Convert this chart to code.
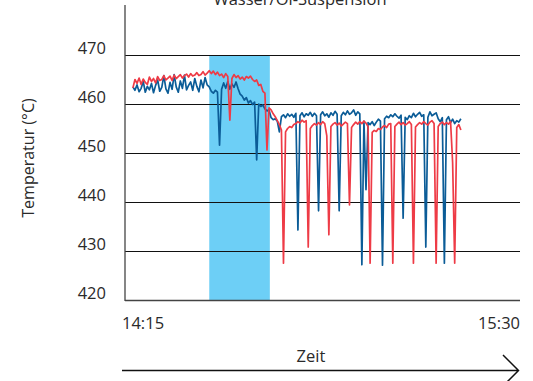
<!DOCTYPE html>
<html>
<head>
<meta charset="utf-8">
<script src="https://cdn.jsdelivr.net/npm/d3@7"></script>
<style>
  body { margin: 0; background: #fff; }
  text { font-family: 'Open Sans', 'Noto Sans', sans-serif; fill: #2a2a2a; }
</style>
</head>
<body>
<div class="chart"></div>
<script>
// Tick values and labels
const yTicks = [420, 430, 440, 450, 460, 470];
const xTickLabels = ['14:15', '15:30'];
const band = ['14:31:00', '14:42:30'];

// Sampling: first sample and interval in seconds
const sampleStart = '14:16:30';
const sampleSeconds = 23.5;

// Series 1 (blue)
const blueValues = [
  463.5, 462.8, 463.9, 462.5, 463.2, 464.6, 462.4, 463.6, 462.9, 464.2,
  462.3, 463.8, 464.9, 462.6, 463.4, 465.8, 463.1, 462.2, 464.4, 463.0,
  466.0, 463.5, 462.4, 464.7, 463.2, 465.9, 462.9, 463.8, 464.5, 462.8,
  465.2, 463.6, 462.5, 464.9, 463.3, 465.4, 463.9, 463.5, 462.6, 462.2,
  462.8, 462.4, 451.6, 463.0, 464.3, 463.2, 464.6, 463.0, 464.1, 463.4,
  464.5, 463.1, 462.0, 461.6, 460.8, 461.3, 460.2, 460.7, 459.9, 460.4,
  448.6, 460.0, 459.5, 459.8, 459.0, 458.6, 458.8, 457.2, 456.8, 457.0,
  456.5, 454.3, 457.4, 457.8, 457.2, 458.0, 457.5, 457.9, 457.3, 458.1,
  434.3, 457.6, 458.2, 457.4, 458.0, 457.7, 458.3, 457.5, 458.1, 457.6,
  438.2, 457.8, 458.4, 457.6, 458.0, 457.3, 458.2, 457.7, 458.5, 457.9,
  438.2, 457.6, 458.3, 457.8, 458.6, 457.9, 458.2, 458.8, 457.7, 458.4,
  458.0, 427.2, 456.5, 442.5, 456.2, 455.8, 456.4, 455.6, 456.3, 456.9,
  456.5, 427.1, 457.0, 457.5, 457.2, 457.8, 457.4, 458.0, 457.5, 457.1,
  457.7, 436.7, 457.3, 456.8, 457.6, 457.2, 458.1, 457.4, 457.9, 458.3,
  457.5, 457.8, 430.8, 457.3, 458.4, 457.6, 457.9, 458.2, 457.0, 456.4,
  457.2, 427.5, 456.8, 457.4, 456.2, 456.9, 456.0, 456.6, 456.3, 457.0
];

// Series 2 (red)
const redValues = [
  463.3, 465.0, 464.2, 465.3, 464.0, 465.1, 464.4, 464.0, 465.5, 464.6,
  465.2, 464.3, 465.6, 464.8, 465.0, 465.8, 464.9, 465.3, 465.7, 464.8,
  465.9, 465.2, 465.6, 466.0, 465.3, 465.8, 466.1, 465.5, 466.2, 465.7,
  465.9, 466.4, 465.8, 466.0, 466.6, 465.9, 466.3, 466.8, 466.2, 466.7,
  466.0, 466.5, 465.8, 466.1, 465.4, 466.2, 465.6, 456.7, 465.2, 466.0,
  465.4, 465.8, 465.1, 465.5, 464.9, 465.6, 465.3, 465.7, 465.0, 464.6,
  464.9, 463.8, 464.0, 462.6, 462.2, 450.6, 459.2, 458.8, 458.0, 457.4,
  456.6, 455.8, 454.7, 427.5, 454.3, 455.0, 455.4, 455.2, 455.8, 456.0,
  456.4, 456.1, 456.7, 456.3, 456.6, 430.8, 455.0, 455.6, 456.0, 455.7,
  456.2, 455.8, 456.4, 456.0, 453.5, 433.3, 455.4, 455.9, 456.2, 455.7,
  456.1, 455.5, 455.9, 456.3, 456.0, 439.4, 455.2, 455.8, 456.3, 455.9,
  456.4, 456.0, 456.5, 456.1, 455.4, 427.5, 454.2, 454.6, 454.4, 455.0,
  454.8, 455.3, 455.6, 455.2, 455.9, 456.0, 427.5, 455.4, 455.9, 456.3,
  455.8, 456.2, 455.7, 456.0, 456.4, 455.8, 427.5, 455.3, 455.8, 456.2,
  455.9, 456.4, 456.0, 455.7, 456.3, 456.6, 456.0, 427.5, 455.4, 456.0,
  456.3, 455.8, 456.2, 455.9, 456.4, 448.0, 427.5, 455.2, 455.8, 454.7
];

const svgWidth = 533;
const svgHeight = 381;

const plot = { left: 125, right: 520, top: 55, bottom: 300 };

const svg = d3
  .select('.chart')
  .append('svg')
  .attr('width', svgWidth)
  .attr('height', svgHeight);

const parseTime = d3.timeParse('%H:%M:%S');
const t0 = parseTime(sampleStart);

const xScale = d3
  .scaleTime()
  .domain([parseTime('14:15:00'), parseTime('15:30:00')])
  .range([plot.left, plot.right]);

const yScale = d3
  .scaleLinear()
  .domain([420, 470])
  .range([plot.bottom, plot.top]);

// time of sample i
const timeAt = (i) => new Date(t0.getTime() + i * sampleSeconds * 1000);

// title (cut off at the top, as in the original)
svg
  .append('text')
  .attr('x', 300)
  .attr('y', 5)
  .attr('text-anchor', 'middle')
  .attr('font-size', '16.5px')
  .text('Wasser/Öl-Suspension');

// highlighted band
svg
  .append('rect')
  .attr('x', xScale(parseTime(band[0])))
  .attr('y', plot.top)
  .attr('width', xScale(parseTime(band[1])) - xScale(parseTime(band[0])))
  .attr('height', plot.bottom - plot.top)
  .attr('fill', '#6dcff6');

// gridlines
svg
  .append('g')
  .selectAll('line')
  .data(yTicks)
  .enter()
  .append('line')
  .attr('x1', plot.left)
  .attr('x2', plot.right)
  .attr('y1', (d) => Math.round(yScale(d)) + 0.5)
  .attr('y2', (d) => Math.round(yScale(d)) + 0.5)
  .attr('stroke', (d) => (d === 420 ? '#444' : '#111'))
  .attr('stroke-width', (d) => (d === 420 ? 1.5 : 1.2));

// y axis line
svg
  .append('line')
  .attr('x1', plot.left)
  .attr('x2', plot.left)
  .attr('y1', 5)
  .attr('y2', plot.bottom + 1)
  .attr('stroke', '#444')
  .attr('stroke-width', 1.3);

// y tick labels
svg
  .append('g')
  .selectAll('text')
  .data(yTicks)
  .enter()
  .append('text')
  .attr('x', 106)
  .attr('y', (d) => yScale(d) - 1)
  .attr('text-anchor', 'end')
  .attr('font-size', '16.5px')
  .text((d) => d);

// y label
svg
  .append('text')
  .attr('transform', 'translate(34, 158) rotate(-90)')
  .attr('text-anchor', 'middle')
  .attr('font-size', '16px')
  .text('Temperatur (°C)');

// lines
const line = d3
  .line()
  .x((d, i) => xScale(timeAt(i)))
  .y((d) => yScale(d));

svg
  .append('path')
  .datum(blueValues)
  .attr('fill', 'none')
  .attr('stroke', '#0b5c97')
  .attr('stroke-width', 1.7)
  .attr('stroke-linejoin', 'round')
  .attr('d', line);

svg
  .append('path')
  .datum(redValues)
  .attr('fill', 'none')
  .attr('stroke', '#ee3b46')
  .attr('stroke-width', 1.7)
  .attr('stroke-linejoin', 'round')
  .attr('d', line);

// x tick labels
svg
  .append('text')
  .attr('x', plot.left - 3)
  .attr('y', 329)
  .attr('font-size', '16.5px')
  .text(xTickLabels[0]);

svg
  .append('text')
  .attr('x', plot.right)
  .attr('y', 329)
  .attr('text-anchor', 'end')
  .attr('font-size', '16.5px')
  .text(xTickLabels[1]);

// x label and arrow
svg
  .append('text')
  .attr('x', 311)
  .attr('y', 362)
  .attr('text-anchor', 'middle')
  .attr('font-size', '16.5px')
  .text('Zeit');

svg
  .append('path')
  .attr('d', 'M122,370.5 H518 M503,355 L518.5,370.5 L503,386')
  .attr('fill', 'none')
  .attr('stroke', '#111')
  .attr('stroke-width', 1.5);
</script>
</body>
</html>
